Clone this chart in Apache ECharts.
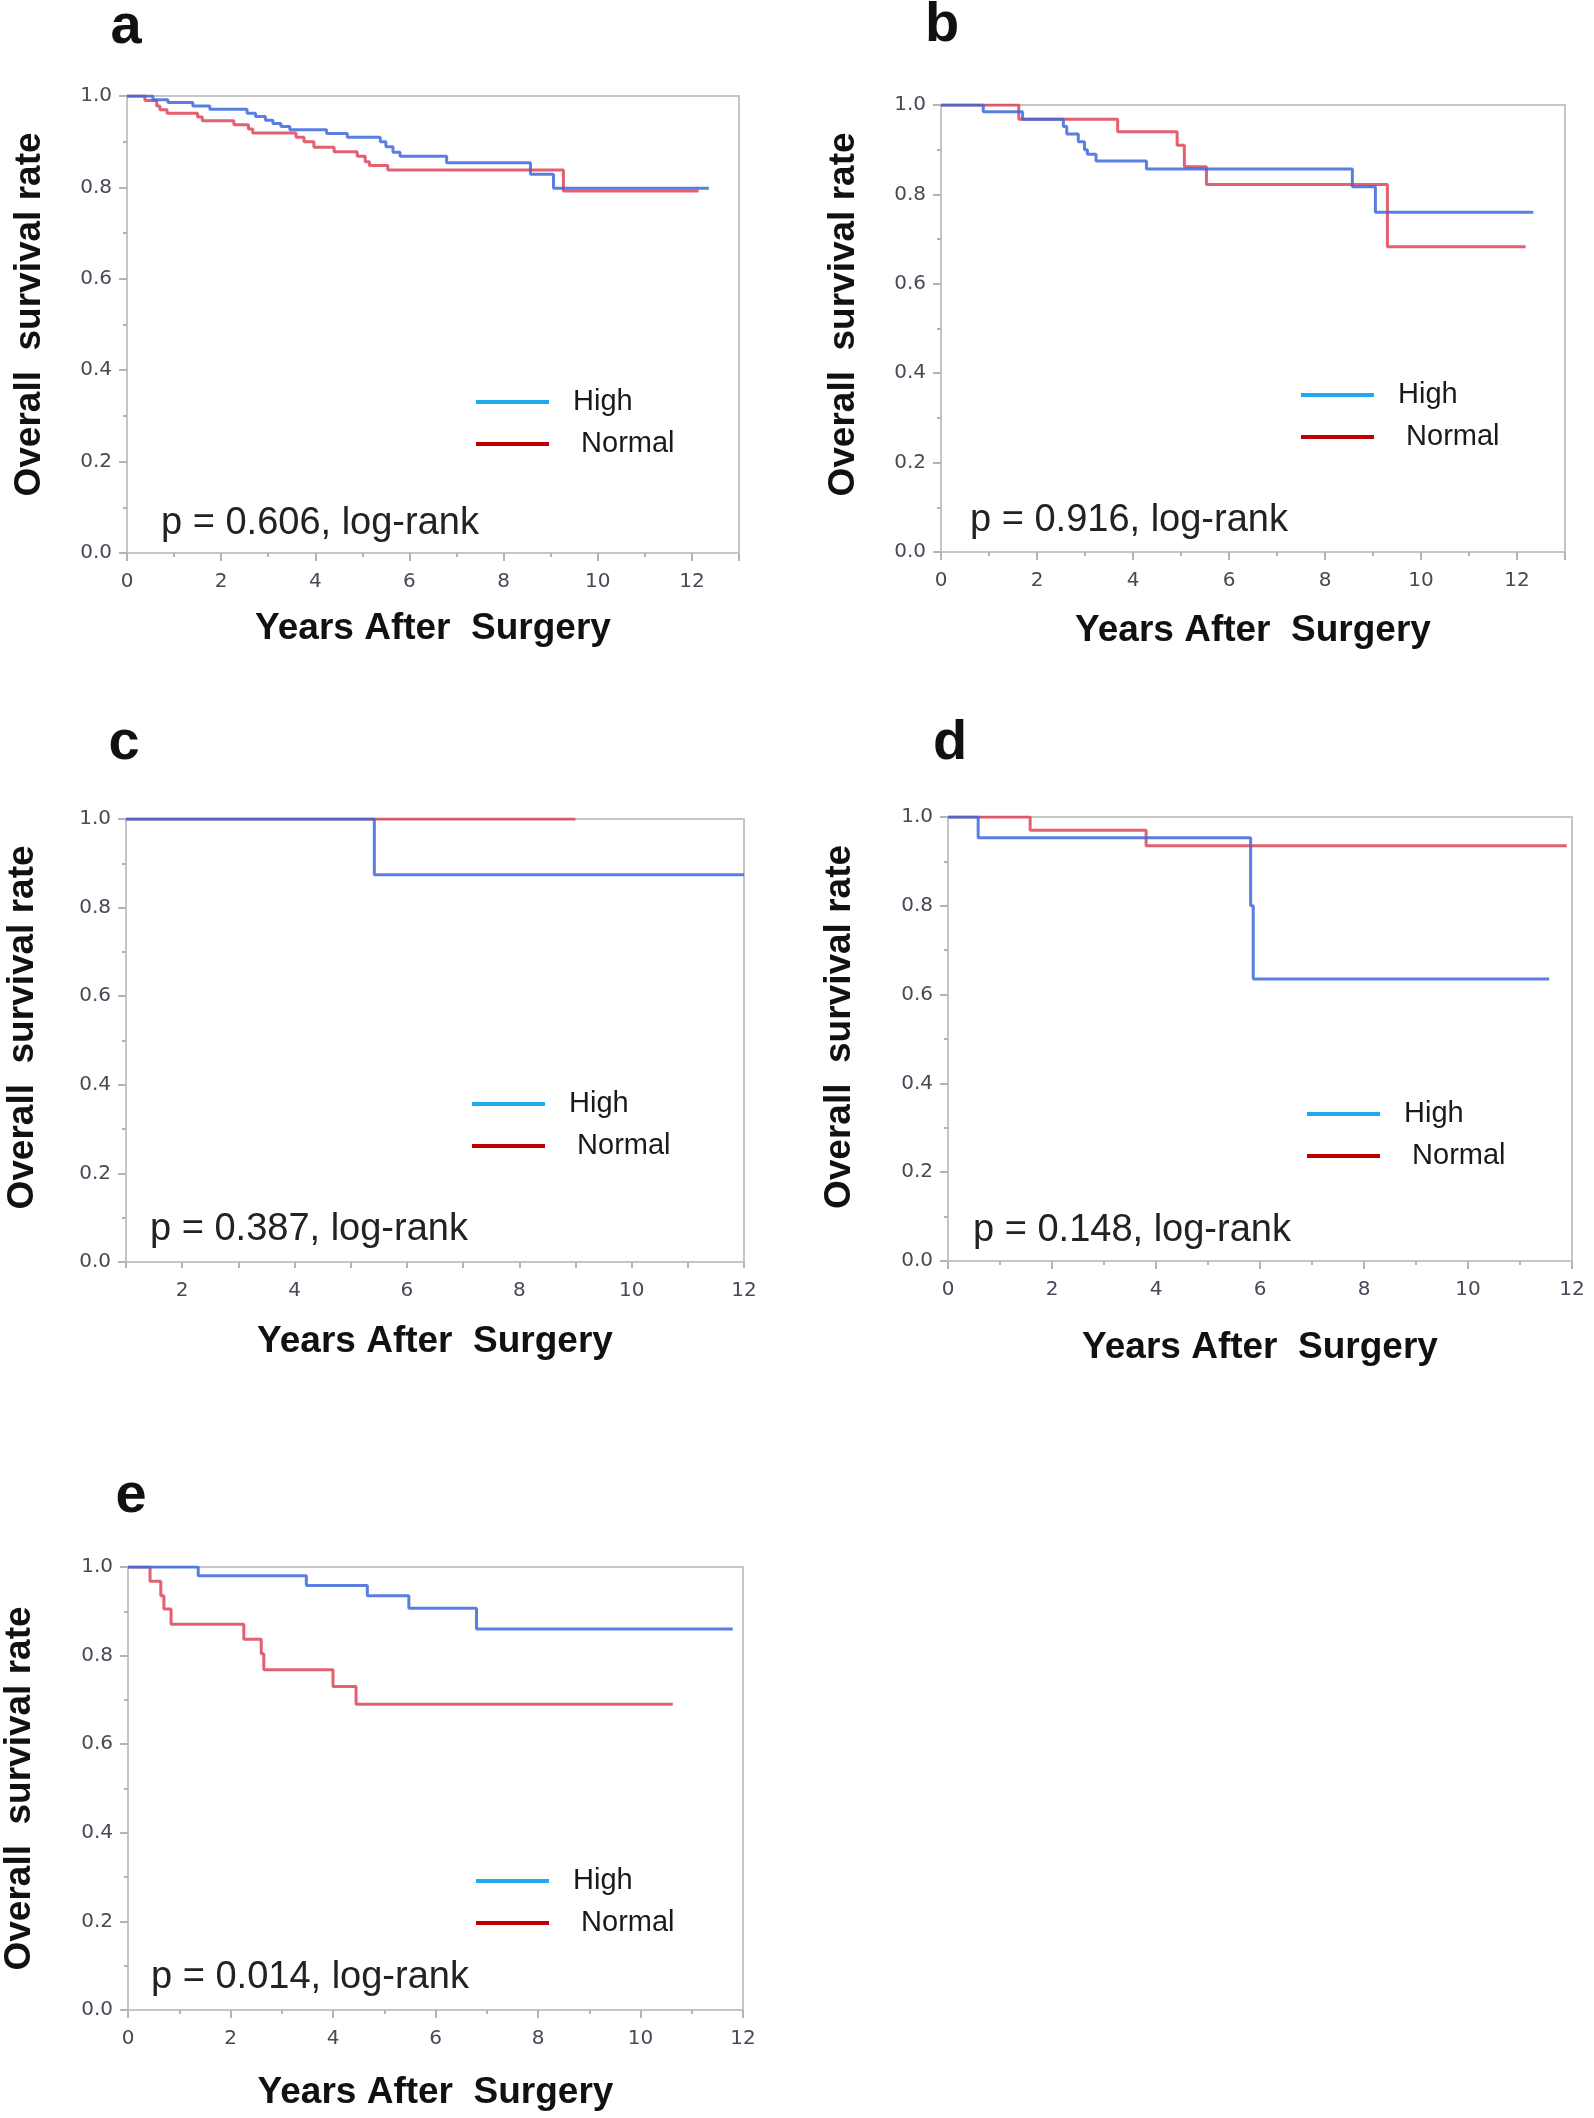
<!DOCTYPE html>
<html>
<head>
<meta charset="utf-8">
<title>Overall survival by group</title>
<script src="https://cdn.jsdelivr.net/npm/echarts@6/dist/echarts.min.js"></script>
<style>
  html, body { margin: 0; padding: 0; background: #fff; }
  #chart { width: 1594px; height: 2118px; }
</style>
</head>
<body>
<div id="chart"></div>
<script>
// Kaplan-Meier curves: [years after surgery, survival]
const aHigh = [[0,1],[0.55,0.992],[0.87,0.986],[1.4,0.978],[1.76,0.971],[2.55,0.962],[2.73,0.955],[2.94,0.947],[3.1,0.94],[3.27,0.933],[3.46,0.926],[4.24,0.918],[4.68,0.91],[5.38,0.9],[5.5,0.889],[5.65,0.877],[5.8,0.868],[6.79,0.854],[8.57,0.829],[9.06,0.798],[12.36,0.798]];
const aNormal = [[0,1],[0.38,0.99],[0.63,0.978],[0.7,0.97],[0.85,0.962],[1.5,0.954],[1.6,0.946],[2.27,0.937],[2.58,0.928],[2.67,0.919],[3.59,0.91],[3.76,0.9],[3.97,0.888],[4.4,0.878],[4.89,0.868],[5.06,0.856],[5.15,0.848],[5.54,0.838],[9.27,0.792],[12.14,0.792]];

const bHigh = [[0,1],[0.88,0.985],[1.7,0.968],[2.55,0.952],[2.62,0.935],[2.86,0.918],[2.99,0.9],[3.05,0.89],[3.23,0.875],[4.28,0.857],[8.57,0.817],[9.05,0.76],[12.34,0.76]];
const bNormal = [[0,1],[1.62,0.968],[3.68,0.94],[4.92,0.91],[5.07,0.862],[5.53,0.822],[9.3,0.683],[12.18,0.683]];

const cHigh = [[1,1],[5.42,0.874],[12,0.874]];
const cNormal = [[1,1],[9.0,1]];

const dHigh = [[0,1],[0.58,0.953],[5.82,0.8],[5.87,0.635],[11.56,0.635]];
const dNormal = [[0,1],[1.58,0.97],[3.81,0.935],[11.9,0.935]];

const eHigh = [[0,1],[1.37,0.98],[3.48,0.958],[4.67,0.935],[5.48,0.907],[6.8,0.86],[11.8,0.86]];
const eNormal = [[0,1],[0.43,0.968],[0.64,0.935],[0.7,0.905],[0.84,0.871],[2.26,0.837],[2.6,0.804],[2.65,0.768],[4.0,0.73],[4.45,0.69],[10.63,0.69]];

const panelLetters = ['a', 'b', 'c', 'd', 'e'];
const pValues = ['0.606', '0.916', '0.387', '0.148', '0.014'];
const groupNames = ['High', 'Normal'];

// layout of each panel (pixels); yLift moves the rotated y title up
const panels = [
  { high: aHigh, normal: aNormal, grid: { left: 127, top: 96, width: 612, height: 457 }, xMin: 0, xMax: 13,
    letter: [126, 28], pText: [161, 524], legend: [476, 387], yGap: 79, xGap: 57, yLift: 20 },
  { high: bHigh, normal: bNormal, grid: { left: 941, top: 105, width: 624, height: 447 }, xMin: 0, xMax: 13,
    letter: [942, 26], pText: [970, 521], legend: [1301, 380], yGap: 79, xGap: 60, yLift: 28 },
  { high: cHigh, normal: cNormal, grid: { left: 126, top: 819, width: 618, height: 443 }, xMin: 1, xMax: 12,
    letter: [124, 744], pText: [150, 1230], legend: [472, 1089], yGap: 85, xGap: 61, yLift: 26 },
  { high: dHigh, normal: dNormal, grid: { left: 948, top: 817, width: 624, height: 444 }, xMin: 0, xMax: 12,
    letter: [950, 744], pText: [973, 1231], legend: [1307, 1099], yGap: 90, xGap: 68, yLift: 24 },
  { high: eHigh, normal: eNormal, grid: { left: 128, top: 1567, width: 615, height: 443 }, xMin: 0, xMax: 12,
    letter: [131, 1497], pText: [151, 1978], legend: [476, 1866], yGap: 90, xGap: 64, yLift: 0 }
];

const frameColor = '#c6c6c6';
const tickColor = '#b4b4b4';
const tickLabel = { fontFamily: 'DejaVu Sans', fontSize: 20, color: '#454a55' };
const titleFont = { fontFamily: 'Liberation Sans, Arial', fontSize: 37, fontWeight: 'bold', color: '#111' };
const blueLine = '#3d68dc';
const redLine = '#dd4458';

const grids = [], xAxes = [], yAxes = [], series = [], legends = [], graphics = [];

panels.forEach((p, i) => {
  grids.push(Object.assign({ show: true, borderColor: frameColor, borderWidth: 2, backgroundColor: '#fff' }, p.grid));

  const odd = p.xMin % 2 !== 0; // panel c starts at 1
  xAxes.push({
    type: 'value', gridIndex: i, min: p.xMin, max: p.xMax, interval: odd ? 1 : 2,
    name: 'Years After  Surgery', nameLocation: 'middle', nameGap: p.xGap, nameTextStyle: titleFont,
    axisLine: { show: true, lineStyle: { color: frameColor, width: 2 } },
    axisTick: { show: true, length: odd ? 6 : 8, lineStyle: { color: tickColor, width: 2 } },
    minorTick: { show: !odd, splitNumber: 2, length: 4, lineStyle: { color: tickColor, width: 2 } },
    splitLine: { show: false },
    axisLabel: Object.assign({
      margin: 19, showMinLabel: true, showMaxLabel: p.xMax === 12,
      formatter: v => (v % 2 === 0 ? String(v) : '')
    }, tickLabel)
  });

  yAxes.push({
    type: 'value', gridIndex: i, min: 0, max: 1, interval: 0.2,
    name: 'Overall  survival rate', nameLocation: 'middle', nameGap: p.yGap,
    nameTextStyle: Object.assign({ padding: [0, 0, 0, p.yLift] }, titleFont),
    axisLine: { show: true, lineStyle: { color: frameColor, width: 2 } },
    axisTick: { show: true, length: 8, lineStyle: { color: tickColor, width: 2 } },
    minorTick: { show: true, splitNumber: 2, length: 4, lineStyle: { color: tickColor, width: 2 } },
    splitLine: { show: false },
    axisLabel: Object.assign({ margin: 15, formatter: v => v.toFixed(1) }, tickLabel)
  });

  [[groupNames[1], p.normal, redLine], [groupNames[0], p.high, blueLine]].forEach(([name, data, color]) => {
    series.push({
      type: 'line', name: name, xAxisIndex: i, yAxisIndex: i, data: data, step: 'end',
      symbol: 'none', animation: false,
      lineStyle: { color: color, width: 3, opacity: 0.85 },
      itemStyle: { color: color }
    });
  });

  legends.push({
    left: p.legend[0], top: p.legend[1], orient: 'vertical', padding: 0,
    itemWidth: 73, itemHeight: 4, itemGap: 12, icon: 'rect', selectedMode: false,
    data: [
      { name: groupNames[0], itemStyle: { color: '#1fa9ee', borderWidth: 0 } },
      { name: groupNames[1], itemStyle: { color: '#c00000', borderWidth: 0 } }
    ],
    formatter: n => (n === 'Normal' ? ' ' + n : n),
    textStyle: { fontFamily: 'Liberation Sans, Arial', fontSize: 29, color: '#1a1a1a', lineHeight: 30, padding: [0, 0, 0, 19] }
  });

  graphics.push({
    type: 'text', x: p.letter[0], y: p.letter[1],
    style: { text: panelLetters[i], fontFamily: 'Liberation Sans, Arial', fontSize: 56, fontWeight: 'bold',
             fill: '#111', align: 'center', verticalAlign: 'middle' }
  });
  graphics.push({
    type: 'text', x: p.pText[0], y: p.pText[1],
    style: { text: 'p = ' + pValues[i] + ', log-rank', fontFamily: 'Liberation Sans, Arial', fontSize: 38,
             fill: '#222', align: 'left', verticalAlign: 'middle' }
  });
});

const chart = echarts.init(document.getElementById('chart'));
chart.setOption({
  backgroundColor: '#fff',
  animation: false,
  grid: grids,
  xAxis: xAxes,
  yAxis: yAxes,
  legend: legends,
  series: series,
  graphic: graphics
});
</script>
</body>
</html>
